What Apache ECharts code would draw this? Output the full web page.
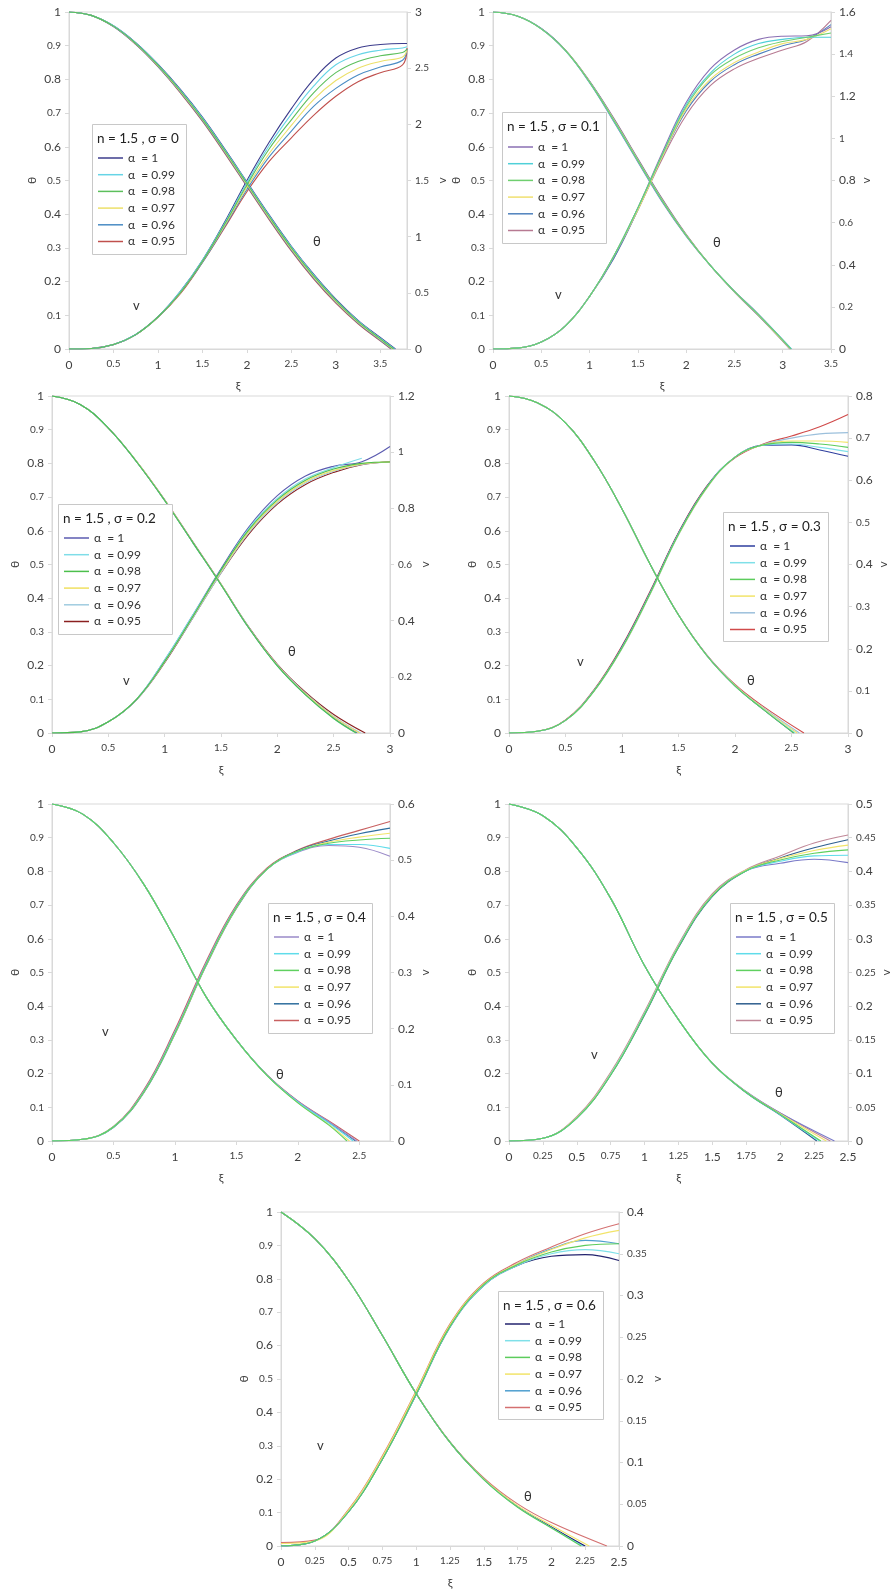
<!DOCTYPE html>
<html><head><meta charset="utf-8">
<script src="https://cdn.jsdelivr.net/npm/echarts@6/dist/echarts.min.js"></script>
<style>html,body{margin:0;padding:0;background:#fff}#c{width:893px;height:1590px}</style>
</head><body><div id="c"></div>
<script>
// ---------- DATA ----------
const ALPHA_LABELS = ['α  = 1', 'α  = 0.99', 'α  = 0.98', 'α  = 0.97', 'α  = 0.96', 'α  = 0.95'];
const PANEL_TITLES = ['n = 1.5 , σ = 0', 'n = 1.5 , σ = 0.1', 'n = 1.5 , σ = 0.2', 'n = 1.5 , σ = 0.3',
                      'n = 1.5 , σ = 0.4', 'n = 1.5 , σ = 0.5', 'n = 1.5 , σ = 0.6'];

// Panel 1 : sigma = 0
const XI_1 = [0,0.25,0.5,0.75,1,1.25,1.5,1.75,2,2.25,2.5,2.75,3,3.25,3.5,3.75,3.8];
const TH_1 = [
  [1,0.990,0.959,0.909,0.845,0.771,0.688,0.594,0.496,0.398,0.305,0.222,0.148,0.085,0.034],
  [1,0.990,0.959,0.908,0.844,0.769,0.686,0.592,0.494,0.396,0.303,0.220,0.146,0.083,0.032],
  [1,0.990,0.958,0.907,0.842,0.767,0.683,0.589,0.491,0.393,0.300,0.217,0.144,0.081,0.030],
  [1,0.990,0.958,0.906,0.841,0.765,0.681,0.587,0.488,0.390,0.297,0.214,0.141,0.079,0.028],
  [1,0.990,0.957,0.905,0.839,0.763,0.678,0.584,0.485,0.387,0.294,0.211,0.139,0.077,0.026],
  [1,0.990,0.957,0.904,0.838,0.761,0.676,0.581,0.482,0.384,0.291,0.208,0.136,0.075,0.024]
];
const TH_END_1 = [3.67,3.66,3.65,3.64,3.63,3.62];
const V_1 = [
  [0,0.005,0.040,0.129,0.287,0.51,0.79,1.13,1.50,1.84,2.14,2.40,2.59,2.68,2.71,2.72,2.72],
  [0,0.005,0.040,0.129,0.286,0.51,0.79,1.12,1.48,1.81,2.09,2.34,2.53,2.62,2.66,2.68,2.69],
  [0,0.005,0.040,0.128,0.285,0.50,0.78,1.11,1.46,1.78,2.04,2.28,2.46,2.56,2.61,2.64,2.67],
  [0,0.005,0.040,0.128,0.284,0.50,0.78,1.10,1.44,1.74,1.99,2.22,2.39,2.50,2.56,2.60,2.66],
  [0,0.005,0.039,0.127,0.283,0.50,0.77,1.09,1.42,1.71,1.94,2.16,2.32,2.44,2.51,2.57,2.67],
  [0,0.005,0.039,0.127,0.282,0.49,0.77,1.08,1.40,1.67,1.88,2.08,2.25,2.38,2.46,2.53,2.68]
];

// Panel 2 : sigma = 0.1
const XI_2 = [0,0.25,0.5,0.75,1,1.25,1.5,1.75,2,2.25,2.5,2.75,3,3.25,3.5];
const TH_2 = [
  [1,0.988,0.950,0.885,0.790,0.675,0.555,0.437,0.335,0.248,0.172,0.103],
  [1,0.988,0.950,0.885,0.791,0.677,0.557,0.439,0.336,0.248,0.171,0.102],
  [1,0.988,0.950,0.886,0.792,0.679,0.559,0.441,0.337,0.248,0.171,0.101],
  [1,0.988,0.950,0.886,0.793,0.681,0.561,0.443,0.338,0.248,0.170,0.100],
  [1,0.988,0.951,0.887,0.794,0.683,0.563,0.445,0.339,0.248,0.170,0.099],
  [1,0.988,0.951,0.887,0.795,0.685,0.565,0.447,0.340,0.248,0.169,0.098]
];
const TH_END_2 = [3.09,3.09,3.085,3.08,3.08,3.075];
const V_2 = [
  [0,0.004,0.033,0.11,0.25,0.44,0.67,0.93,1.17,1.33,1.42,1.47,1.485,1.487,1.53],
  [0,0.004,0.033,0.11,0.25,0.44,0.67,0.92,1.16,1.31,1.40,1.45,1.47,1.48,1.48],
  [0,0.004,0.033,0.11,0.25,0.44,0.67,0.92,1.15,1.30,1.38,1.43,1.46,1.48,1.50],
  [0,0.004,0.033,0.11,0.25,0.44,0.66,0.91,1.14,1.28,1.36,1.41,1.45,1.47,1.52],
  [0,0.004,0.033,0.11,0.25,0.43,0.66,0.91,1.13,1.27,1.35,1.40,1.44,1.47,1.54],
  [0,0.004,0.033,0.11,0.25,0.43,0.66,0.90,1.11,1.25,1.33,1.38,1.42,1.46,1.56]
];

// Panel 3 : sigma = 0.2
const XI_3 = [0,0.25,0.5,0.75,1,1.25,1.5,1.75,2,2.25,2.5,2.75,3];
const TH_3 = [
  [1,0.975,0.905,0.805,0.690,0.565,0.440,0.310,0.200,0.115,0.045],
  [1,0.975,0.905,0.805,0.690,0.565,0.440,0.310,0.199,0.113,0.043],
  [1,0.975,0.905,0.805,0.690,0.565,0.440,0.310,0.199,0.113,0.043],
  [1,0.975,0.905,0.806,0.691,0.566,0.441,0.311,0.201,0.116,0.048],
  [1,0.975,0.905,0.806,0.691,0.566,0.441,0.312,0.202,0.118,0.050],
  [1,0.975,0.905,0.806,0.692,0.567,0.442,0.313,0.204,0.121,0.055]
];
const TH_END_3 = [2.71,2.70,2.70,2.73,2.74,2.78];
const V_3 = [
  [0,0.004,0.04,0.12,0.26,0.42,0.585,0.735,0.845,0.915,0.950,0.966,1.02],
  [0,0.004,0.04,0.12,0.26,0.42,0.58,0.73,0.835,0.905,0.945,0.978],
  [0,0.004,0.04,0.12,0.255,0.415,0.58,0.725,0.83,0.90,0.94,0.96,0.965],
  [0,0.004,0.04,0.12,0.255,0.415,0.575,0.72,0.825,0.895,0.935,0.958,0.965],
  [0,0.004,0.04,0.118,0.252,0.41,0.57,0.715,0.82,0.89,0.932,0.956,0.965],
  [0,0.004,0.04,0.118,0.25,0.41,0.57,0.71,0.815,0.885,0.928,0.955,0.966]
];

// Panel 4 : sigma = 0.3
const XI_4 = [0,0.25,0.5,0.75,1,1.25,1.5,1.75,2,2.25,2.5,2.75,3];
const TH_4 = [
  [1,0.98,0.92,0.81,0.665,0.50,0.35,0.23,0.14,0.070],
  [1,0.98,0.92,0.81,0.665,0.50,0.35,0.23,0.14,0.071],
  [1,0.98,0.92,0.81,0.665,0.50,0.35,0.23,0.14,0.070],
  [1,0.98,0.92,0.81,0.665,0.50,0.35,0.23,0.141,0.073],
  [1,0.98,0.92,0.81,0.665,0.50,0.35,0.231,0.142,0.075],
  [1,0.98,0.92,0.81,0.665,0.50,0.351,0.232,0.144,0.079]
];
const TH_END_4 = [2.52,2.53,2.52,2.55,2.57,2.61];
const V_4 = [
  [0,0.004,0.03,0.10,0.205,0.335,0.475,0.585,0.655,0.683,0.684,0.672,0.657],
  [0,0.004,0.03,0.10,0.203,0.333,0.473,0.584,0.655,0.683,0.686,0.678,0.668],
  [0,0.004,0.03,0.099,0.202,0.332,0.472,0.583,0.655,0.684,0.690,0.686,0.678],
  [0,0.004,0.03,0.099,0.201,0.331,0.471,0.582,0.655,0.684,0.693,0.693,0.690],
  [0,0.004,0.03,0.098,0.200,0.330,0.470,0.581,0.655,0.685,0.700,0.710,0.713],
  [0,0.004,0.031,0.102,0.207,0.337,0.476,0.586,0.653,0.686,0.705,0.727,0.756]
];

// Panel 5 : sigma = 0.4
const XI_5 = [0,0.25,0.5,0.75,1,1.25,1.5,1.75,2,2.25,2.5,2.75];
const TH_5 = [
  [1,0.97,0.885,0.76,0.60,0.43,0.30,0.195,0.118,0.058],
  [1,0.97,0.885,0.76,0.60,0.43,0.30,0.195,0.116,0.054],
  [1,0.97,0.885,0.76,0.60,0.43,0.30,0.194,0.113,0.048],
  [1,0.97,0.885,0.76,0.60,0.43,0.30,0.194,0.114,0.050],
  [1,0.97,0.885,0.76,0.60,0.43,0.30,0.195,0.117,0.056],
  [1,0.97,0.885,0.76,0.60,0.43,0.30,0.196,0.119,0.060]
];
const TH_END_5 = [2.48,2.45,2.40,2.42,2.47,2.50];
const V_5 = [
  [0,0.003,0.025,0.090,0.195,0.315,0.418,0.484,0.514,0.526,0.523,0.507],
  [0,0.003,0.025,0.089,0.193,0.313,0.417,0.484,0.515,0.528,0.528,0.521],
  [0,0.003,0.025,0.088,0.192,0.312,0.416,0.484,0.516,0.530,0.536,0.539],
  [0,0.003,0.025,0.088,0.191,0.311,0.415,0.484,0.516,0.532,0.541,0.548],
  [0,0.003,0.024,0.087,0.190,0.310,0.414,0.484,0.517,0.534,0.547,0.557],
  [0,0.003,0.026,0.092,0.198,0.318,0.420,0.486,0.518,0.537,0.553,0.569]
];

// Panel 6 : sigma = 0.5
const XI_6 = [0,0.25,0.5,0.75,1,1.25,1.5,1.75,2,2.25,2.5];
const TH_6 = [
  [1,0.965,0.87,0.72,0.52,0.36,0.23,0.146,0.083],
  [1,0.965,0.87,0.72,0.52,0.36,0.23,0.144,0.078],
  [1,0.965,0.87,0.72,0.52,0.36,0.23,0.144,0.079],
  [1,0.965,0.87,0.72,0.52,0.36,0.23,0.145,0.081],
  [1,0.965,0.87,0.72,0.52,0.36,0.23,0.143,0.077],
  [1,0.965,0.87,0.72,0.52,0.36,0.231,0.146,0.083]
];
const TH_END_6 = [2.40,2.29,2.30,2.34,2.27,2.37];
const V_6 = [
  [0,0.004,0.035,0.100,0.190,0.290,0.365,0.401,0.412,0.418,0.413],
  [0,0.004,0.034,0.099,0.189,0.289,0.364,0.401,0.415,0.423,0.424],
  [0,0.004,0.034,0.098,0.188,0.288,0.364,0.401,0.417,0.427,0.432],
  [0,0.004,0.035,0.100,0.190,0.290,0.365,0.402,0.419,0.431,0.439],
  [0,0.004,0.034,0.098,0.187,0.287,0.363,0.401,0.420,0.435,0.447],
  [0,0.004,0.036,0.102,0.192,0.292,0.367,0.403,0.423,0.442,0.454]
];

// Panel 7 : sigma = 0.6
const XI_7 = [0,0.25,0.5,0.75,1,1.25,1.5,1.75,2,2.25,2.5];
const TH_7 = [
  [1,0.92,0.795,0.63,0.456,0.31,0.200,0.118,0.057],
  [1,0.92,0.795,0.63,0.456,0.31,0.199,0.117,0.055],
  [1,0.92,0.795,0.63,0.456,0.31,0.199,0.116,0.054],
  [1,0.92,0.795,0.63,0.456,0.31,0.201,0.121,0.062],
  [1,0.92,0.795,0.63,0.456,0.31,0.200,0.118,0.056],
  [1,0.92,0.795,0.63,0.457,0.312,0.204,0.126,0.070]
];
const TH_END_7 = [2.25,2.23,2.22,2.28,2.24,2.41];
const V_7 = [
  [0,0.006,0.041,0.104,0.181,0.262,0.312,0.336,0.347,0.349,0.342],
  [0,0.006,0.041,0.104,0.181,0.262,0.312,0.336,0.350,0.355,0.350],
  [0,0.006,0.041,0.104,0.182,0.263,0.313,0.337,0.352,0.360,0.362],
  [0.003,0.006,0.043,0.107,0.185,0.265,0.314,0.338,0.355,0.369,0.378],
  [0,0.006,0.041,0.104,0.182,0.263,0.313,0.338,0.356,0.366,0.362],
  [0.004,0.007,0.044,0.108,0.186,0.266,0.315,0.340,0.358,0.374,0.386]
];

const PANELS = [
  {xi: XI_1, th: TH_1, thEnd: TH_END_1, v: V_1},
  {xi: XI_2, th: TH_2, thEnd: TH_END_2, v: V_2},
  {xi: XI_3, th: TH_3, thEnd: TH_END_3, v: V_3},
  {xi: XI_4, th: TH_4, thEnd: TH_END_4, v: V_4},
  {xi: XI_5, th: TH_5, thEnd: TH_END_5, v: V_5},
  {xi: XI_6, th: TH_6, thEnd: TH_END_6, v: V_6},
  {xi: XI_7, th: TH_7, thEnd: TH_END_7, v: V_7}
];

// ---------- LAYOUT / STYLE ----------
const LAYOUT = [
  {left:69,  top:12,   w:338, h:337, xMax:3.8,  xInt:0.5,  vMax:3,   vInt:0.5,  box:[92,124,94,130],  leg:[98,158],  th:[317,243],  vl:[137,307]},
  {left:493, top:12,   w:338, h:337, xMax:3.5,  xInt:0.5,  vMax:1.6, vInt:0.2,  box:[502,112,104,131], leg:[508,147],  th:[717,244],  vl:[559,296]},
  {left:52,  top:396,  w:338, h:337, xMax:3,    xInt:0.5,  vMax:1.2, vInt:0.2,  box:[58,504,114,130],  leg:[64,538],   th:[292,653],  vl:[127,682]},
  {left:509, top:396,  w:339, h:337, xMax:3,    xInt:0.5,  vMax:0.8, vInt:0.1,  box:[723,512,105,129], leg:[730,546],  th:[751,682],  vl:[581,663]},
  {left:52,  top:804,  w:338, h:337, xMax:2.75, xInt:0.5,  vMax:0.6, vInt:0.1,  box:[268,903,104,130], leg:[274,937],  th:[280,1076], vl:[106,1033]},
  {left:509, top:804,  w:339, h:337, xMax:2.5,  xInt:0.25, vMax:0.5, vInt:0.05, box:[730,903,104,130], leg:[736,937],  th:[779,1094], vl:[595,1056]},
  {left:281, top:1212, w:338, h:337, xMax:2.5,  xInt:0.25, vMax:0.4, vInt:0.05, box:[498,1291,105,128],leg:[505,1324], th:[528,1498], vl:[321,1447]}
];
const COLORS = [
  ['#3c3c8c','#66d4e6','#5cbf5c','#ece06a','#4a8cc4','#c0504d'],
  ['#8a6fb3','#4fd0d8','#6fcf6f','#f0e070','#4f81bd','#b77a92'],
  ['#5b5bb0','#7fdde8','#4cbf4c','#f0e060','#a0cce0','#8b2020'],
  ['#2e3e9e','#7fe0e8','#5ccc5c','#f2e46a','#9cc0dc','#d04a4a'],
  ['#9a8ac8','#5fdcea','#5fd05f','#f2e46a','#2e6e9e','#c86060'],
  ['#7a7ac8','#5fdcea','#5fd05f','#f2e46a','#2e5e8e','#c08898'],
  ['#23236e','#7fe0e8','#5ccc5c','#f2e46a','#4f9fcf','#d47070']
];
const ZORDER = [4, 6, 7, 5, 3, 2];
const FONT = 'Lato, "Liberation Sans", "DejaVu Sans", sans-serif';
const AX = '#d9d9d9', TXT = '#404040';

function labelFmt(val, idx) {
  const s = String(+(+val).toFixed(3));
  return (idx % 2 === 0 ? '{a|' : '{b|') + s + '}';
}
const RICH = {a: {fontSize: 12, color: TXT, fontFamily: FONT}, b: {fontSize: 10, color: TXT, fontFamily: FONT}};

const grid = [], xAxis = [], yAxis = [], series = [], legend = [], graphic = [];
LAYOUT.forEach((L, p) => {
  grid.push({left: L.left, top: L.top, width: L.w, height: L.h, show: true,
             borderColor: AX, borderWidth: 1, containLabel: false});
  xAxis.push({type: 'value', gridIndex: p, min: 0, max: L.xMax, interval: L.xInt,
    name: 'ξ', nameLocation: 'middle', nameGap: 31,
    nameTextStyle: {fontSize: 12, color: TXT, fontFamily: FONT},
    axisLine: {show: true, lineStyle: {color: AX}},
    axisTick: {show: true, length: 4, lineStyle: {color: AX}},
    splitLine: {show: false},
    axisLabel: {formatter: labelFmt, rich: RICH, margin: 10, showMaxLabel: (L.xMax / L.xInt) % 1 === 0}
  });
  yAxis.push({type: 'value', gridIndex: p, position: 'left', min: 0, max: 1, interval: 0.1,
    name: 'θ', nameLocation: 'middle', nameGap: 31,
    nameTextStyle: {fontSize: 12, color: TXT, fontFamily: FONT},
    axisLine: {show: true, lineStyle: {color: AX}},
    axisTick: {show: true, length: 4, lineStyle: {color: AX}},
    splitLine: {show: false},
    axisLabel: {formatter: labelFmt, rich: RICH, margin: 8}
  });
  yAxis.push({type: 'value', gridIndex: p, position: 'right', min: 0, max: L.vMax, interval: L.vInt,
    name: 'v', nameLocation: 'middle', nameGap: 29,
    nameTextStyle: {fontSize: 12, color: TXT, fontFamily: FONT},
    axisLine: {show: true, lineStyle: {color: AX}},
    axisTick: {show: true, length: 4, lineStyle: {color: AX}},
    splitLine: {show: false},
    axisLabel: {formatter: labelFmt, rich: RICH, margin: 8}
  });

  const P = PANELS[p];
  const names = [];
  for (let a = 0; a < 6; a++) {
    const name = (p + 1) + '|' + ALPHA_LABELS[a];
    names.push(name);
    const col = COLORS[p][a];
    const thData = P.th[a].map((y, i) => [P.xi[i], y]).concat([[P.thEnd[a], 0]]);
    const vData = P.v[a].map((y, i) => [P.xi[i], y]);
    const common = {type: 'line', name: name, xAxisIndex: p, smooth: 0.4,
      symbol: 'none', showSymbol: false,
      lineStyle: {width: 1.1, color: col}, itemStyle: {color: col}, silent: true, animation: false, z: ZORDER[a]};
    series.push(Object.assign({}, common, {yAxisIndex: 2 * p, data: thData}));
    series.push(Object.assign({}, common, {yAxisIndex: 2 * p + 1, data: vData}));
  }
  legend.push({data: names, orient: 'vertical', left: L.leg[0], top: L.leg[1] - 6, padding: 0, z: 20,
    icon: 'rect', itemWidth: 25, itemHeight: 1.5, itemGap: 4.7, selectedMode: false,
    formatter: n => n.split('|')[1],
    textStyle: {fontSize: 12, lineHeight: 12, color: '#333', fontFamily: FONT}
  });
  const b = L.box;
  graphic.push({type: 'rect', left: b[0], top: b[1], shape: {width: b[2], height: b[3]},
    style: {fill: '#fff', stroke: '#c8c8c8', lineWidth: 1}, z: 8, silent: true});
  graphic.push({type: 'text', left: b[0] + 5, top: b[1] + 8,
    style: {text: PANEL_TITLES[p], fontSize: 13.5, fill: '#222', fontFamily: FONT}, z: 21, silent: true});
  graphic.push({type: 'text', left: L.th[0] - 4, top: L.th[1] - 8,
    style: {text: 'θ', fontSize: 13, fill: '#333', fontFamily: FONT}, z: 21, silent: true});
  graphic.push({type: 'text', left: L.vl[0] - 4, top: L.vl[1] - 8,
    style: {text: 'v', fontSize: 13, fill: '#333', fontFamily: FONT}, z: 21, silent: true});
});

const chart = echarts.init(document.getElementById('c'), null, {renderer: 'canvas'});
chart.setOption({
  backgroundColor: '#fff',
  animation: false,
  textStyle: {fontFamily: FONT},
  grid, xAxis, yAxis, series, legend, graphic
});
</script></body></html>
